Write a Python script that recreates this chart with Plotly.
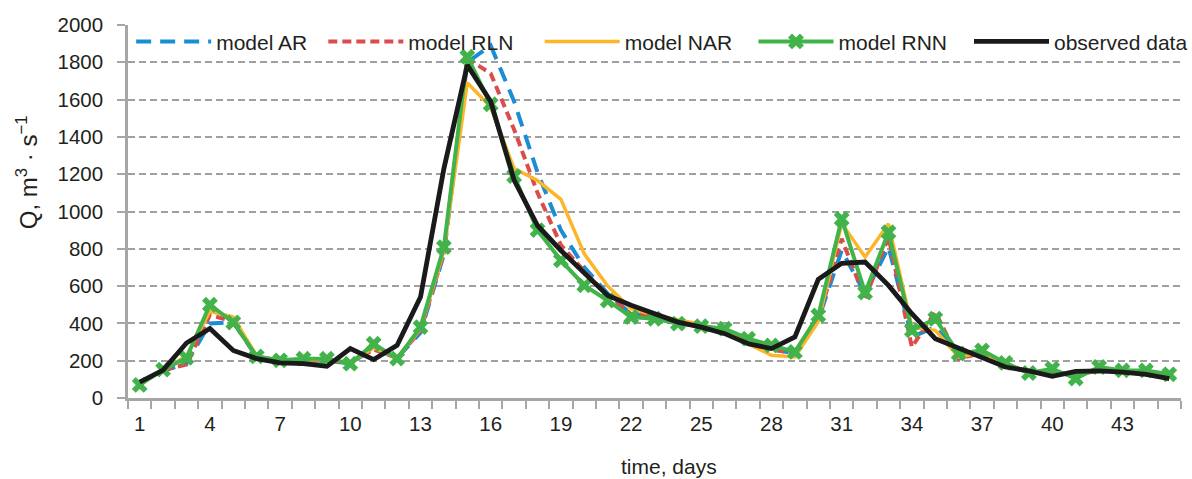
import plotly.graph_objects as go

days = list(range(1, 46))
tick_days = list(range(1, 46, 3))[:15]

model_ar = [80, 145, 185, 400, 407, 220, 200, 200, 200, 185, 265, 215, 350, 770, 1800,
            1890, 1590, 1210, 900, 700, 560, 450, 440, 410, 385, 350, 300, 260, 240, 420,
            791, 559, 809, 327, 380, 230, 240, 175, 140, 140, 120, 150, 150, 145, 125]
model_rln = [80, 150, 180, 445, 410, 220, 200, 200, 200, 190, 260, 215, 360, 780, 1820,
             1740, 1440, 1100, 820, 680, 550, 450, 440, 410, 385, 350, 300, 260, 240, 420,
             854, 532, 863, 273, 461, 211, 240, 175, 140, 140, 120, 150, 145, 140, 125]
model_nar = [75, 150, 225, 465, 434, 225, 200, 205, 205, 190, 270, 215, 370, 790, 1690,
             1560, 1230, 1166, 1065, 773, 600, 479, 445, 420, 395, 360, 290, 229, 220, 410,
             935, 756, 934, 380, 363, 220, 245, 180, 135, 150, 110, 160, 145, 140, 125]
model_rnn = [70, 152, 215, 500, 405, 223, 202, 211, 211, 184, 291, 211, 380, 809, 1830,
             1575, 1190, 900, 738, 604, 523, 434, 425, 399, 385, 372, 318, 282, 247, 443,
             960, 565, 889, 363, 425, 238, 255, 188, 134, 157, 104, 166, 148, 148, 127]
observed = [85, 150, 295, 373, 255, 211, 188, 184, 170, 265, 206, 282, 541, 1230, 1785,
            1590, 1168, 925, 791, 666, 550, 497, 452, 407, 380, 345, 291, 265, 327, 636,
            722, 729, 604, 452, 318, 267, 220, 166, 145, 116, 143, 145, 139, 127, 104]

FONT = "Liberation Sans, Arial, sans-serif"
TXT = "#231F20"
AX = "#A6A6A6"

fig = go.Figure()
fig.add_trace(go.Scatter(x=days, y=model_ar, name="model AR", mode="lines", legend="legend",
                         line=dict(color="#1B8DD4", width=4, dash="15px,9px")))
fig.add_trace(go.Scatter(x=days, y=model_rln, name="model RLN", mode="lines", legend="legend2",
                         line=dict(color="#DB4D4A", width=4, dash="9px,5px")))
fig.add_trace(go.Scatter(x=days, y=model_nar, name="model NAR", mode="lines", legend="legend3",
                         line=dict(color="#FDB62A", width=3.5)))
fig.add_trace(go.Scatter(x=days, y=model_rnn, name="model RNN", mode="lines+markers",
                         legend="legend4", line=dict(color="#41B34A", width=4),
                         marker=dict(symbol="x", size=14, color="#41B34A")))
fig.add_trace(go.Scatter(x=days, y=observed, name="observed data", mode="lines",
                         legend="legend5", line=dict(color="#1A1A1A", width=4.8)))


def leg(xp, anchor="left"):
    return dict(orientation="h", x=xp, y=1.01, xanchor=anchor, yanchor="top",
                bgcolor="rgba(0,0,0,0)", font=dict(size=21, color=TXT),
                itemwidth=75)


fig.update_layout(
    width=1192, height=479,
    margin=dict(l=128, r=11, t=25, b=81, autoexpand=False),
    paper_bgcolor="white", plot_bgcolor="white",
    font=dict(family=FONT, size=20, color=TXT),
    showlegend=True,
    legend=leg(0.003), legend2=leg(0.1855), legend3=leg(0.391),
    legend4=leg(0.594), legend5=leg(1.0114, "right"),
)
fig.update_xaxes(
    range=[0.5, 45.5], tickmode="array", tickvals=tick_days,
    ticktext=[str(d) for d in tick_days], ticks="", showgrid=False, zeroline=False,
    showline=True, linecolor=AX, linewidth=2.5, ticklabelstandoff=6,
    tickfont=dict(size=20.5, color=TXT), automargin=False,
    minor=dict(ticks="outside", tickmode="array",
               tickvals=[d - 0.5 for d in days] + [45.5],
               ticklen=8, tickwidth=2, tickcolor=AX, showgrid=False),
)
fig.update_yaxes(
    range=[0, 2000], tickmode="linear", tick0=0, dtick=200,
    showgrid=True, gridcolor="#A0A0A0", gridwidth=2, griddash="7px,4px",
    zeroline=False, showline=True, linecolor=AX, linewidth=2.5,
    ticks="outside", ticklen=8, tickwidth=2, tickcolor=AX, ticklabelstandoff=10,
    tickfont=dict(size=20.5, color=TXT), automargin=False,
)
fig.add_annotation(text="Q, m<sup>3</sup> · s<sup>−1</sup>", xref="paper", yref="paper",
                   x=-0.096, y=0.605, xanchor="center", yanchor="middle",
                   textangle=-90, showarrow=False, font=dict(size=24, color=TXT))
fig.add_annotation(text="time, days", xref="paper", yref="paper",
                   x=0.514, y=-0.183, xanchor="center", yanchor="middle",
                   showarrow=False, font=dict(size=21, color=TXT))

fig.write_html(
    "out.html",
    config={"displayModeBar": False},
    post_script="document.body.style.margin='0';document.body.style.overflow='hidden';",
)
